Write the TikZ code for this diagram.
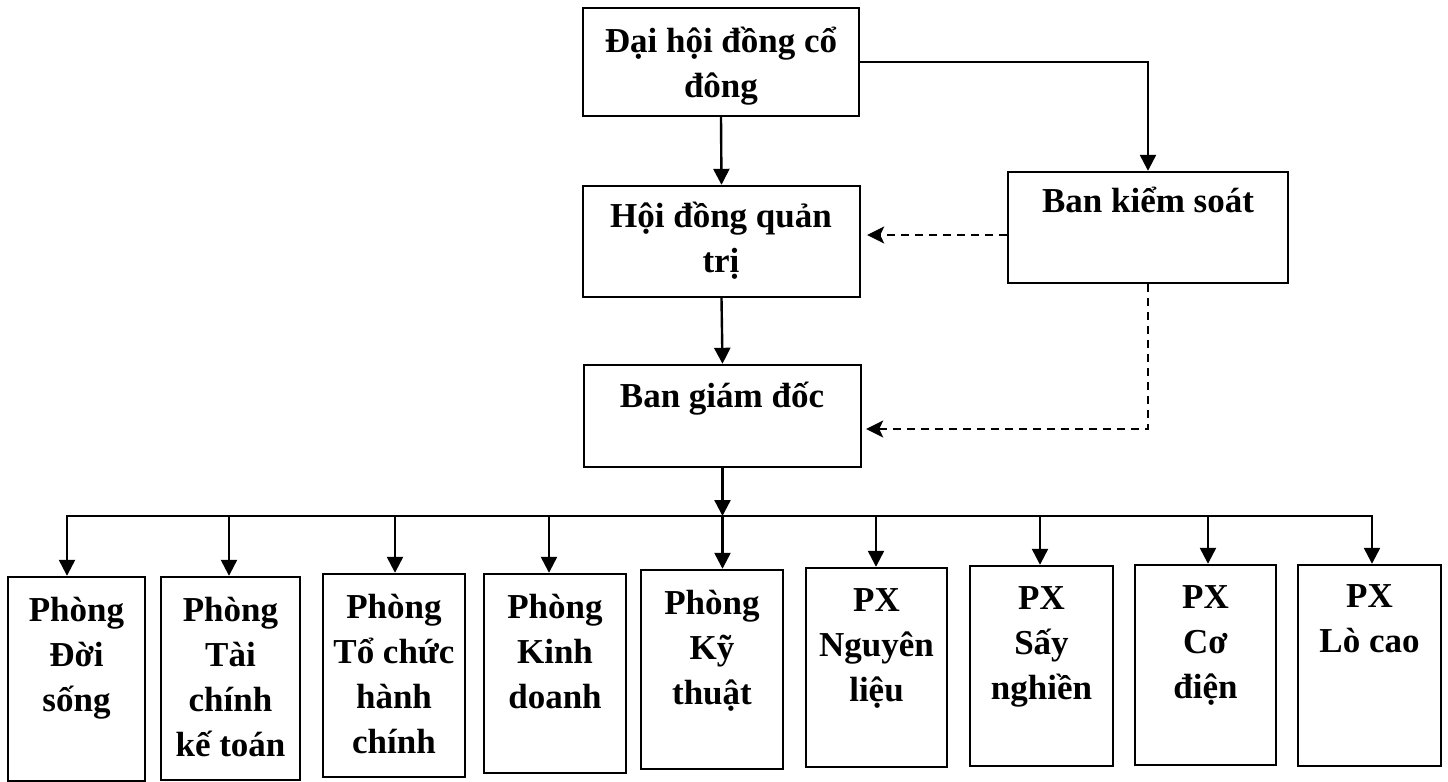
\documentclass[tikz,border=0pt]{standalone}
\usepackage{fontspec}
\setmainfont{Liberation Serif}
\usetikzlibrary{arrows.meta,fit}
\newcommand\myst{\rule{0pt}{18pt}}
\begin{document}
\begin{tikzpicture}[x=0.5pt,y=-0.5pt,
  box/.style={draw, line width=1.2pt, inner sep=0pt},
  lbl/.style={font=\fontsize{17.5pt}{22.5pt}\selectfont\bfseries, align=center, inner sep=0pt, anchor=north},
  arr/.style={line width=1.2pt, -{Triangle[length=8pt,width=8pt]}},
  dsh/.style={line width=1.2pt, dash pattern=on 4pt off 3pt, -{Stealth[length=8.5pt,width=8.5pt,inset=2pt]}}]
\path[fill=white, use as bounding box] (0,0) rectangle (1448,782);

% upper boxes
\node[box, fit={(583,8) (859,116)}] (dh) {};
\node[lbl] (dht) at (721,16) {\myst Đại hội đồng cổ\\đông};
\node[box, fit={(583,186) (860,297)}] (hdqt) {};
\node[lbl] (hdqtt) at (721,191) {\myst Hội đồng quản\\trị};
\node[box, fit={(584,365) (861,467)}] (bgd) {};
\node[lbl] (bgdt) at (722,371) {\myst Ban giám đốc};
\node[box, fit={(1008,172) (1288,283)}] (bks) {};
\node[lbl] (bkst) at (1148,176) {\myst Ban kiểm soát};

% lower boxes
\node[box, fit={(8,577) (145,781)}] (p1) {};
\node[lbl] (p1t) at (76.5,585) {\myst Phòng\\Đời\\sống};
\node[box, fit={(161,577) (300,780)}] (p2) {};
\node[lbl] (p2t) at (230.5,585) {\myst Phòng\\Tài\\chính\\kế toán};
\node[box, fit={(323,574) (465,777)}] (p3) {};
\node[lbl] (p3t) at (394,582) {\myst Phòng\\Tổ chức\\hành\\chính};
\node[box, fit={(484,574) (626,773)}] (p4) {};
\node[lbl] (p4t) at (555,582) {\myst Phòng\\Kinh\\doanh};
\node[box, fit={(641,570) (783,769)}] (p5) {};
\node[lbl] (p5t) at (712,578) {\myst Phòng\\Kỹ\\thuật};
\node[box, fit={(806,568) (947,767)}] (p6) {};
\node[lbl] (p6t) at (876.5,575) {\myst PX\\Nguyên\\liệu};
\node[box, fit={(970,566) (1113,766)}] (p7) {};
\node[lbl] (p7t) at (1041.5,573) {\myst PX\\Sấy\\nghiền};
\node[box, fit={(1135,565) (1276,765)}] (p8) {};
\node[lbl] (p8t) at (1205.5,572) {\myst PX\\Cơ\\điện};
\node[box, fit={(1298,565) (1441,766)}] (p9) {};
\node[lbl] (p9t) at (1369.5,571) {\myst PX\\Lò cao};

% bar coordinates
\coordinate (b1) at (67,516);
\coordinate (b2) at (229,516);
\coordinate (b3) at (395,516);
\coordinate (b4) at (549,516);
\coordinate (b5) at (bgd.south |- 0,516);
\coordinate (b6) at (876,516);
\coordinate (b7) at (1040,516);
\coordinate (b8) at (1208,516);
\coordinate (b9) at (1372,516);

% connectors
\draw[arr] (dh.south) -- (hdqt.north);
\draw[arr] (hdqt.south) -- (bgd.north);
\draw[arr] (dh.east) -| (bks.north);
\draw[dsh, shorten >=3pt] (bks.west |- 0,235) -- (hdqt.east |- 0,235);
\draw[dsh, shorten >=2pt] (bks.south) |- (bgd.east |- 0,429);
\draw[arr] (bgd.south) -- (b5);
\draw[arr] (b5) -| (b1 |- p1.north);
\draw[arr] (b5) -| (b9 |- p9.north);
\draw[arr] (b2) -- (b2 |- p2.north);
\draw[arr] (b3) -- (b3 |- p3.north);
\draw[arr] (b4) -- (b4 |- p4.north);
\draw[arr] (b5) -- (b5 |- p5.north);
\draw[arr] (b6) -- (b6 |- p6.north);
\draw[arr] (b7) -- (b7 |- p7.north);
\draw[arr] (b8) -- (b8 |- p8.north);
\end{tikzpicture}
\end{document}
